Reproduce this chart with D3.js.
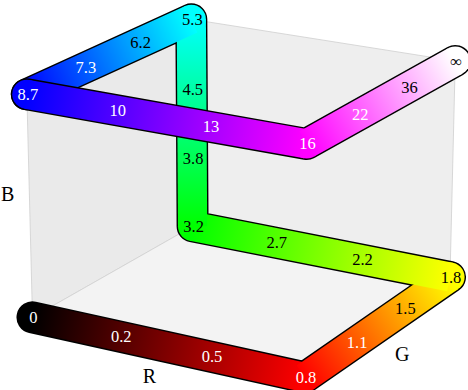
<!DOCTYPE html>
<html>
<head>
<meta charset="utf-8">
<script src="https://cdn.jsdelivr.net/npm/d3@7"></script>
<style>
  body { margin: 0; background: #fff; }
</style>
</head>
<body>
<svg id="chart" width="468" height="390"></svg>
<script>
// corners of the RGB cube, in the order the path walks through them
const corners = [
  [0, 0, 0], [1, 0, 0], [1, 1, 0], [0, 1, 0],
  [0, 1, 1], [0, 0, 1], [1, 0, 1], [1, 1, 1]
];
// one label every third of an edge
const tickLabels = [
  "0", "0.2", "0.5", "0.8", "1.1", "1.5", "1.8", "2.2", "2.7", "3.2", "3.8",
  "4.5", "5.3", "6.2", "7.3", "8.7", "10", "13", "16", "22", "36", "\u221E"
];
const axisNames = ["R", "G", "B"];
const axisLabelAt = [[0.515, -0.12, -0.071], [1.079, 0.5, -0.113], [-0.084, 0, 0.538]];
// back panes: r = 0, g = 1, b = 0
const panes = [
  { fill: "#eaeaea", pts: [[0, 0, 0], [0, 1, 0], [0, 1, 1], [0, 0, 1]] },
  { fill: "#eeeeee", pts: [[0, 1, 0], [1, 1, 0], [1, 1, 1], [0, 1, 1]] },
  { fill: "#f3f3f3", pts: [[0, 0, 0], [1, 0, 0], [1, 1, 0], [0, 1, 0]] }
];

const width = 468, height = 390;
const view = { azim: -60, elev: 19, dist: 38, aspect: [4, 4, 3] };

const sx = d3.scaleLinear().domain([-0.1, 0.1]).range([245 - 294, 245 + 294]);
const sy = d3.scaleLinear().domain([-0.1, 0.1]).range([188.5 + 294, 188.5 - 294]);

function project(p) {
  const a = (view.azim * Math.PI) / 180;
  const e = (view.elev * Math.PI) / 180;
  const x = (p[0] - 0.5) * view.aspect[0];
  const y = (p[1] - 0.5) * view.aspect[1];
  const z = (p[2] - 0.5) * view.aspect[2];
  const q = -Math.sin(a) * x + Math.cos(a) * y;
  const h = Math.cos(a) * x + Math.sin(a) * y;
  const w = view.dist - (Math.cos(e) * h + Math.sin(e) * z);
  const up = -Math.sin(e) * h + Math.cos(e) * z;
  return [sx(q / w), sy(up / w)];
}

const lerp = (p0, p1, t) => p0.map((v, k) => v + (p1[k] - v) * t);
const rgb = (c) => d3.rgb(c[0] * 255, c[1] * 255, c[2] * 255).toString();

const svg = d3.select("#chart");
const line = d3.line();

svg.append("g")
  .selectAll("path")
  .data(panes)
  .join("path")
  .attr("d", (d) => line(d.pts.map(project)) + "Z")
  .attr("fill", (d) => d.fill)
  .attr("stroke", "#cfcfcf")
  .attr("stroke-width", 0.8);

const defs = svg.append("defs");
const edges = d3.range(corners.length - 1).map((i) => ({
  i,
  a: corners[i],
  b: corners[i + 1],
  p0: project(corners[i]),
  p1: project(corners[i + 1])
}));

edges.forEach((e) => {
  const g = defs.append("linearGradient")
    .attr("id", "grad" + e.i)
    .attr("gradientUnits", "userSpaceOnUse")
    .attr("x1", e.p0[0]).attr("y1", e.p0[1])
    .attr("x2", e.p1[0]).attr("y2", e.p1[1]);
  g.append("stop").attr("offset", 0).attr("stop-color", rgb(e.a));
  g.append("stop").attr("offset", 1).attr("stop-color", rgb(e.b));
});

// first part runs up to blue, the second part lies in front of it
const parts = [[0, 5], [5, 7]];
parts.forEach(([from, to]) => {
  const g = svg.append("g");
  const pts = corners.slice(from, to + 1);
  g.append("path")
    .attr("d", line(pts.map(project)))
    .attr("fill", "none")
    .attr("stroke", "#000")
    .attr("stroke-width", 32)
    .attr("stroke-linejoin", "round")
    .attr("stroke-linecap", "round");
  g.selectAll("circle")
    .data(pts)
    .join("circle")
    .attr("cx", (d) => project(d)[0])
    .attr("cy", (d) => project(d)[1])
    .attr("r", 14.6)
    .attr("fill", (d) => rgb(d));
  g.selectAll("line")
    .data(edges.slice(from, to))
    .join("line")
    .attr("x1", (d) => d.p0[0]).attr("y1", d => d.p0[1])
    .attr("x2", (d) => d.p1[0]).attr("y2", d => d.p1[1])
    .attr("stroke", (d) => `url(#grad${d.i})`)
    .attr("stroke-width", 29.2);
});

const labels = tickLabels.map((text, i) => {
  const k = Math.min(Math.floor(i / 3), corners.length - 2);
  const t = (i - 3 * k) / 3;
  const c = lerp(corners[k], corners[k + 1], t);
  const lum = 0.2126 * c[0] + 0.7152 * c[1] + 0.0722 * c[2];
  return { text, c, pos: project(c), light: lum < 0.535 };
});

svg.append("g")
  .selectAll("text")
  .data(labels)
  .join("text")
  .attr("x", (d) => d.pos[0] + 1)
  .attr("y", (d) => d.pos[1])
  .attr("text-anchor", "middle")
  .attr("dominant-baseline", "central")
  .attr("font-family", "'Liberation Serif', 'DejaVu Serif', serif")
  .attr("font-size", 16.5)
  .attr("fill", (d) => (d.light ? "#fff" : "#000"))
  .text((d) => d.text);

svg.append("g")
  .selectAll("text")
  .data(axisNames)
  .join("text")
  .attr("x", (d, i) => project(axisLabelAt[i])[0])
  .attr("y", (d, i) => project(axisLabelAt[i])[1])
  .attr("text-anchor", "middle")
  .attr("dominant-baseline", "central")
  .attr("font-family", "'Liberation Serif', 'DejaVu Serif', serif")
  .attr("font-size", 20)
  .attr("fill", "#000")
  .text((d) => d);
</script>
</body>
</html>
